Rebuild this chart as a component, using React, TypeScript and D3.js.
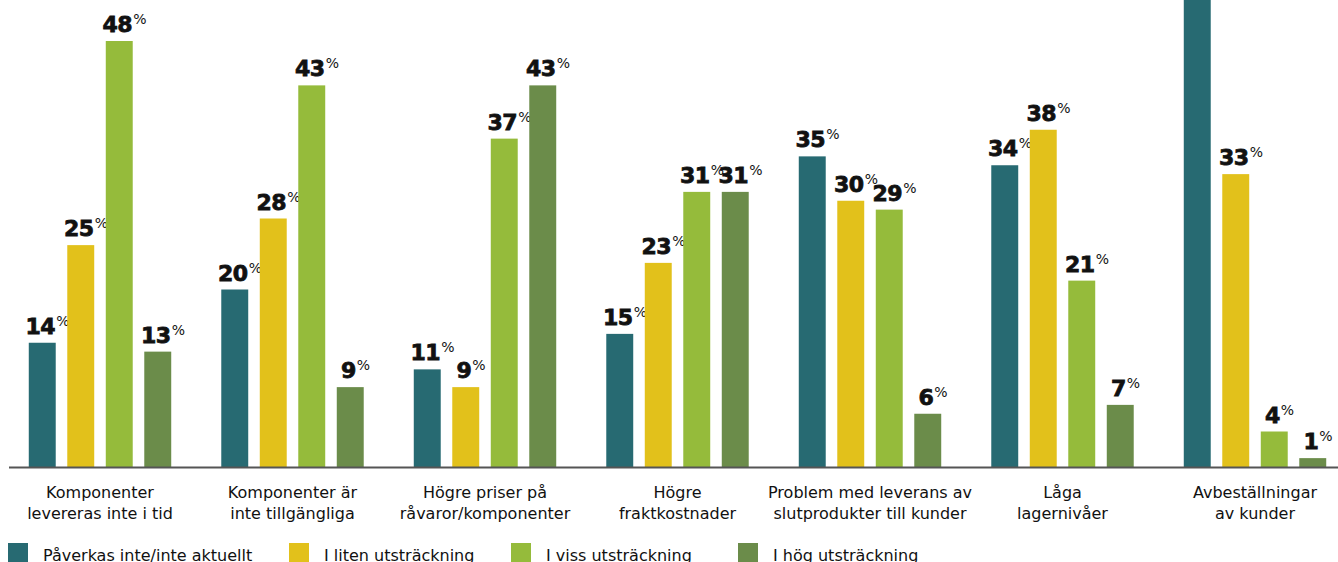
import React from 'react';
import * as d3 from 'd3';

const categories = [
  ['Komponenter', 'levereras inte i tid'],
  ['Komponenter är', 'inte tillgängliga'],
  ['Högre priser på', 'råvaror/komponenter'],
  ['Högre', 'fraktkostnader'],
  ['Problem med leverans av', 'slutprodukter till kunder'],
  ['Låga', 'lagernivåer'],
  ['Avbeställningar', 'av kunder'],
];
const seriesNames = ['Påverkas inte/inte aktuellt', 'I liten utsträckning', 'I viss utsträckning', 'I hög utsträckning'];
const colors = ['#276A72', '#E2C11B', '#95BB3B', '#6B8C4A'];

const notAffected = [14, 20, 11, 15, 35, 34, 62];
const small = [25, 28, 9, 23, 30, 38, 33];
const some = [48, 43, 37, 31, 29, 21, 4];
const high = [13, 9, 43, 31, 6, 7, 1];
const values = [notAffected, small, some, high];

const W = 1338;
const H = 562;
const baseY = 467;
const font = '"DejaVu Sans", sans-serif';

export default function App() {
  const idx = categories.map((_, i) => String(i));
  const x0 = d3.scaleBand<string>().domain(idx).range([3.75, 1351.25]).padding(0);
  const x1 = d3.scaleBand<string>().domain(seriesNames).range([0, x0.bandwidth() * 0.8]).paddingInner(0.3).paddingOuter(0.15);
  const groupOffset = (x0.bandwidth() - x1.range()[1]) / 2;
  const y = d3.scaleLinear().domain([0, 48]).range([baseY, 41]);

  const legendX = [8, 289, 511, 738];

  return (
    <svg width={W} height={H} style={{ position: 'absolute', left: 0, top: 0, background: '#fff' }}>
      {categories.map((cat, ci) => {
        const gx = (x0(String(ci)) ?? 0) + groupOffset;
        const cx = (x0(String(ci)) ?? 0) + x0.bandwidth() / 2;
        return (
          <g key={ci}>
            {seriesNames.map((s, si) => {
              const v = values[si][ci];
              const bx = gx + (x1(s) ?? 0);
              const bw = x1.bandwidth();
              return (
                <g key={s}>
                  <rect x={bx} y={y(v)} width={bw} height={baseY - y(v)} fill={colors[si]} />
                  <text x={bx + bw / 2 + 5} y={y(v) - 9} textAnchor="middle" fontFamily={font} fontWeight={700} fontSize={22} letterSpacing={-0.5} fill="#111">
                    <tspan stroke="#111" strokeWidth={0.8}>{v}</tspan>
                    <tspan fontSize={14} fontWeight={400} dx={1} dy={-8}>%</tspan>
                  </text>
                </g>
              );
            })}
            <text x={cx} y={498} textAnchor="middle" fontFamily={font} fontSize={16} fill="#111">
              {cat[0]}
            </text>
            <text x={cx} y={519} textAnchor="middle" fontFamily={font} fontSize={16} fill="#111">
              {cat[1]}
            </text>
          </g>
        );
      })}
      <line x1={9} x2={W} y1={baseY + 0.5} y2={baseY + 0.5} stroke="#555" strokeWidth={2} />
      {seriesNames.map((s, si) => (
        <g key={s} transform={`translate(${legendX[si]},543)`}>
          <rect width={20} height={20} fill={colors[si]} />
          <text x={35} y={18} fontFamily={font} fontSize={16} fill="#111">
            {s}
          </text>
        </g>
      ))}
    </svg>
  );
}
